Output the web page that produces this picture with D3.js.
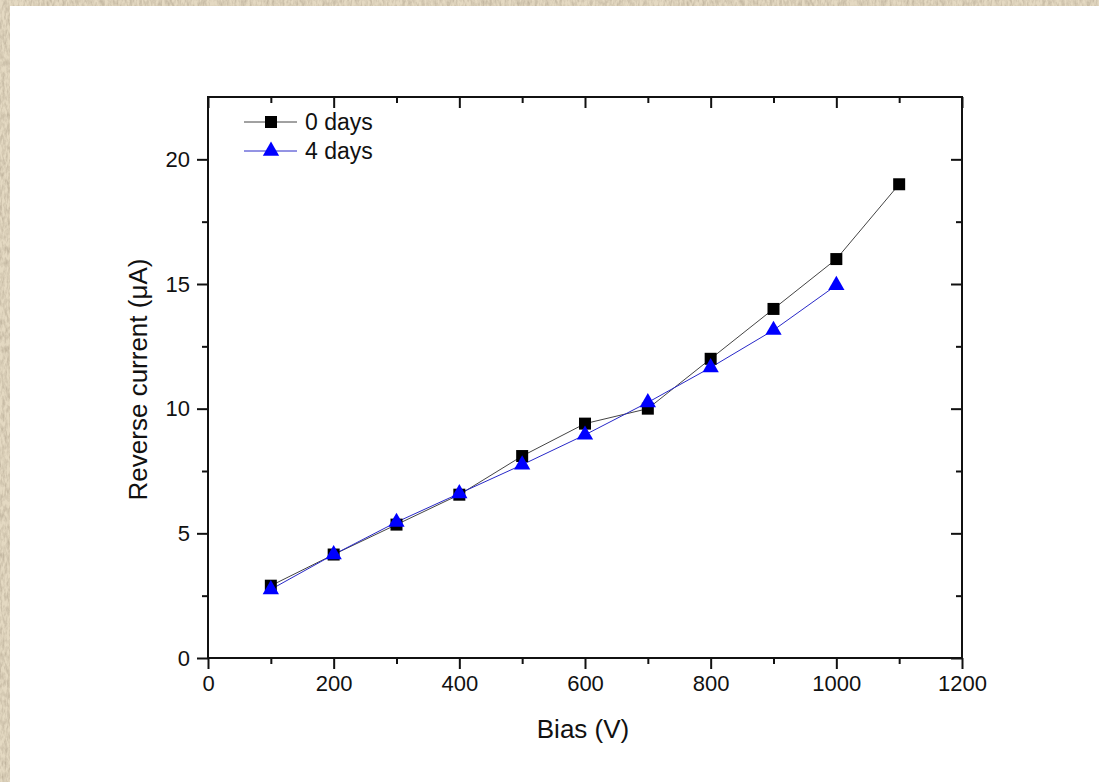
<!DOCTYPE html>
<meta charset="utf-8">
<script src="https://d3js.org/d3.v7.min.js"></script>
<style>
  body { margin: 0; background: #e3d8c1; }
  text { font-family: "Liberation Sans", Arial, sans-serif; fill: #111; }
</style>
<div id="chart"></div>
<script>
// data
var bias = [100, 200, 300, 400, 500, 600, 700, 800, 900, 1000, 1100];
var days0 = [2.9, 4.15, 5.35, 6.55, 8.1, 9.4, 10.0, 12.0, 14.0, 16.0, 19.0];
var days4 = [2.75, 4.15, 5.45, 6.6, 7.75, 8.95, 10.25, 11.65, 13.15, 14.95];
var seriesNames = ["0 days", "4 days"];
var xTicks = [0, 200, 400, 600, 800, 1000, 1200];
var yTicks = [0, 5, 10, 15, 20];

var W = 1099, H = 782;
var margin = {top: 97, right: 137, bottom: 124, left: 208};
var width = W - margin.left - margin.right,
    height = H - margin.top - margin.bottom;

var root = d3.select("#chart").append("svg")
    .attr("width", W)
    .attr("height", H);

// textured beige border
var defs = root.append("defs");
var f = defs.append("filter").attr("id", "grain").attr("x", 0).attr("y", 0).attr("width", "100%").attr("height", "100%");
f.append("feTurbulence").attr("type", "fractalNoise").attr("baseFrequency", "0.4 0.15").attr("numOctaves", 3).attr("seed", 4);
f.append("feColorMatrix").attr("type", "matrix")
    .attr("values", "0 0 0 0 0.5  0 0 0 0 0.43  0 0 0 0 0.32  0 0 0 1.6 -0.55");
f.append("feComposite").attr("in2", "SourceGraphic").attr("operator", "in");
root.append("rect").attr("width", W).attr("height", H).attr("fill", "#e4d9c2");
root.append("rect").attr("width", W).attr("height", H).attr("fill", "#e4d9c2").attr("filter", "url(#grain)");
root.append("rect").attr("x", 10).attr("y", 6).attr("width", W - 10).attr("height", H - 6).attr("fill", "#fff");

var svg = root.append("g")
    .attr("transform", "translate(" + margin.left + "," + margin.top + ")");

var x = d3.scaleLinear().domain([0, 1200]).range([0, width]);
var y = d3.scaleLinear().domain([0, 22.5]).range([height, 0]);

var xMinor = d3.range(100, 1200, 200);
var yMinor = d3.range(2.5, 22.5, 5);

function styleAxis(g) {
    g.select(".domain").remove();
    g.selectAll(".tick line").attr("stroke", "#111").attr("stroke-width", 2);
    g.selectAll(".tick text").style("font-size", "22px").attr("fill", "#111");
}

// bottom axis
svg.append("g").attr("transform", "translate(0," + height + ")")
    .call(d3.axisBottom(x).tickValues(xTicks).tickSize(11).tickPadding(6).tickFormat(d3.format("d")))
    .call(styleAxis);
svg.append("g").attr("transform", "translate(0," + height + ")")
    .call(d3.axisBottom(x).tickValues(xMinor).tickSize(6).tickFormat(""))
    .call(styleAxis);
// top axis (inside ticks)
svg.append("g")
    .call(d3.axisTop(x).tickValues(xTicks).tickSize(-11).tickFormat(""))
    .call(styleAxis);
svg.append("g")
    .call(d3.axisTop(x).tickValues(xMinor).tickSize(-6).tickFormat(""))
    .call(styleAxis);
// left axis
svg.append("g")
    .call(d3.axisLeft(y).tickValues(yTicks).tickSize(11).tickPadding(7))
    .call(styleAxis);
svg.append("g")
    .call(d3.axisLeft(y).tickValues(yMinor).tickSize(6).tickFormat(""))
    .call(styleAxis);
// right axis (inside ticks)
svg.append("g").attr("transform", "translate(" + width + ",0)")
    .call(d3.axisRight(y).tickValues(yTicks).tickSize(-11).tickFormat(""))
    .call(styleAxis);
svg.append("g").attr("transform", "translate(" + width + ",0)")
    .call(d3.axisRight(y).tickValues(yMinor).tickSize(-6).tickFormat(""))
    .call(styleAxis);

// frame
svg.append("rect")
    .attr("width", width).attr("height", height)
    .attr("fill", "none").attr("stroke", "#111").attr("stroke-width", 2);

// series
var line = d3.line().x(function(d) { return x(d[0]); }).y(function(d) { return y(d[1]); });
var pts0 = days0.map(function(v, i) { return [bias[i], v]; });
var pts4 = days4.map(function(v, i) { return [bias[i], v]; });

svg.append("path").datum(pts0).attr("d", line)
    .attr("fill", "none").attr("stroke", "#444").attr("stroke-width", 1);
svg.append("path").datum(pts4).attr("d", line)
    .attr("fill", "none").attr("stroke", "#2828c8").attr("stroke-width", 1);

var square = d3.symbol().type(d3.symbolSquare).size(144);
var triangle = d3.symbol().type(d3.symbolTriangle).size(115);

svg.selectAll(".sq").data(pts0).enter().append("path")
    .attr("class", "sq")
    .attr("d", square)
    .attr("transform", function(d) { return "translate(" + x(d[0]) + "," + y(d[1]) + ")"; })
    .attr("fill", "#000");
svg.selectAll(".tri").data(pts4).enter().append("path")
    .attr("class", "tri")
    .attr("d", triangle)
    .attr("transform", function(d) { return "translate(" + x(d[0]) + "," + y(d[1]) + ")"; })
    .attr("fill", "#0000ff");

// legend
var legend = svg.append("g").attr("transform", "translate(36,25)");
var legendItems = [
    {name: seriesNames[0], color: "#444", fill: "#000", sym: square},
    {name: seriesNames[1], color: "#2828c8", fill: "#0000ff", sym: triangle}
];
legendItems.forEach(function(d, i) {
    var row = legend.append("g").attr("transform", "translate(0," + (i * 29) + ")");
    row.append("line").attr("x1", 0).attr("x2", 53).attr("stroke", d.color).attr("stroke-width", 1);
    row.append("path").attr("d", d.sym).attr("transform", "translate(27,0)").attr("fill", d.fill);
    row.append("text").attr("x", 61).attr("y", 8).style("font-size", "23px").text(d.name);
});

// axis titles
svg.append("text")
    .attr("x", width / 2 - 2).attr("y", height + 80)
    .attr("text-anchor", "middle")
    .style("font-size", "26px")
    .text("Bias (V)");
svg.append("text")
    .attr("transform", "translate(-61," + (height / 2 + 2) + ") rotate(-90)")
    .attr("text-anchor", "middle")
    .style("font-size", "26px")
    .text("Reverse current (μA)");
</script>
